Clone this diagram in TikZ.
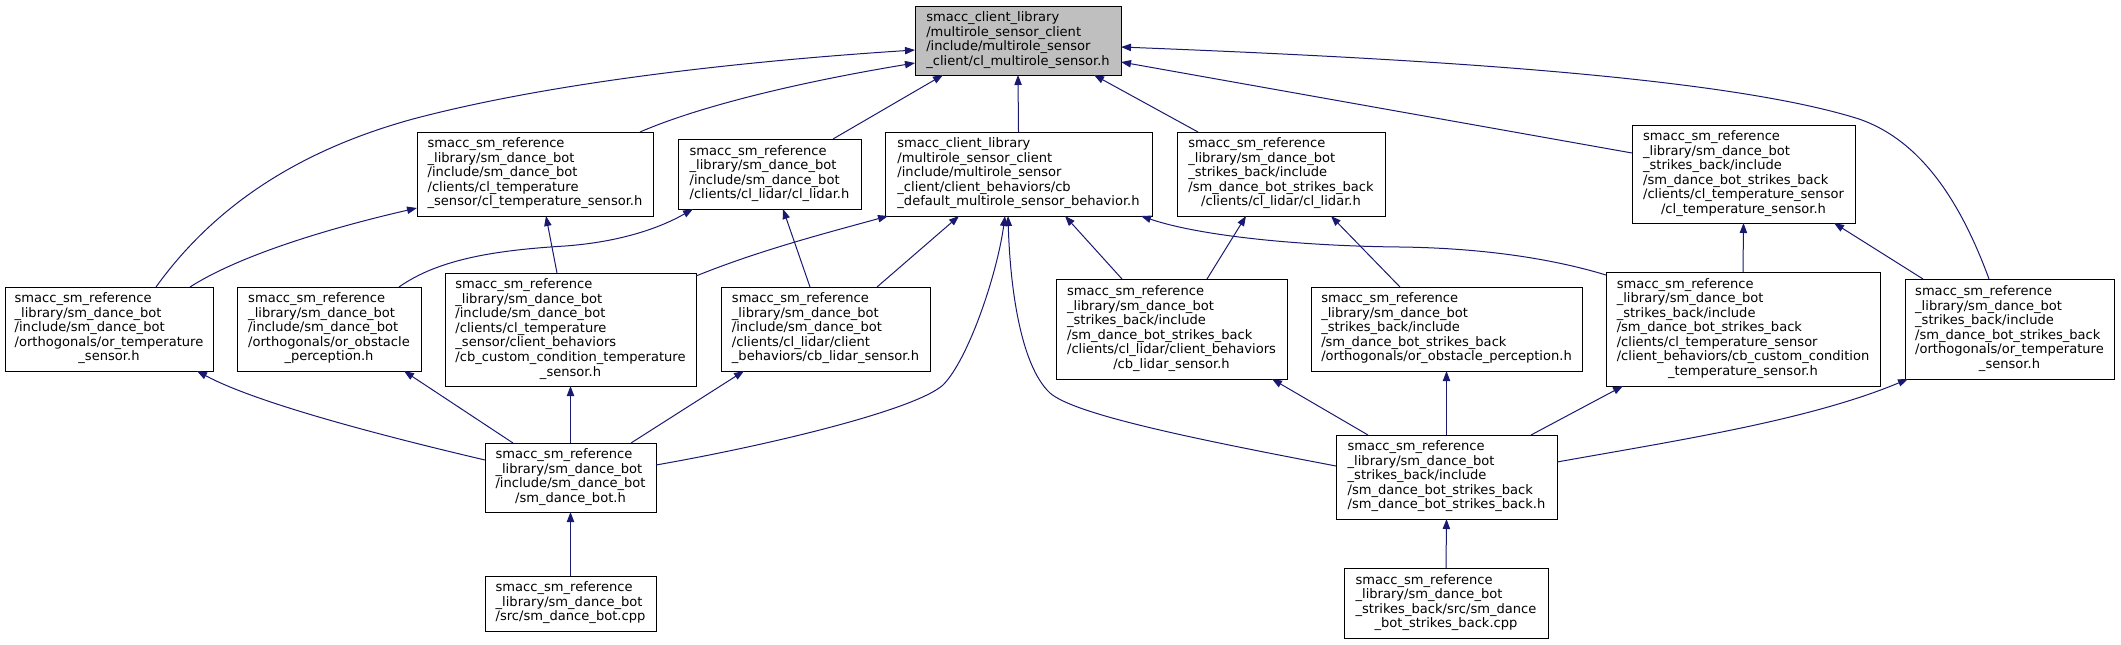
\documentclass[tikz,border=0pt]{standalone}
\usepackage{fontspec}
\setmainfont{DejaVu Sans}
\usetikzlibrary{arrows.meta,calc}
\definecolor{edgeblue}{HTML}{191970}
\definecolor{focusgray}{HTML}{BFBFBF}
\newcommand{\dxlab}[2]{{\fontsize{9.8}{10.9}\selectfont\renewcommand{\arraystretch}{1}\begin{tabular}{@{}l@{}}#1\\\multicolumn{1}{@{}c@{}}{#2}\end{tabular}}}
\tikzset{
  filebox/.style={draw=black, line width=0.75pt, rectangle, inner sep=0pt, outer sep=0pt, fill=white},
  focusbox/.style={filebox, fill=focusgray},
  inc/.style={draw=edgeblue, line width=0.75pt, -{Triangle[length=7.5pt,width=5.5pt]}}
}
\begin{document}
\begin{tikzpicture}[x=0.75pt,y=-0.75pt]
\useasboundingbox (0,0) rectangle (2121,644);
% row 1
\node[focusbox, minimum width=154.5pt, minimum height=51.75pt] (A) at (1018,40.5)
  {\dxlab{smacc\_client\_library\\/multirole\_sensor\_client\\/include/multirole\_sensor}{\_client/cl\_multirole\_sensor.h}};
% row 2
\node[filebox, minimum width=177pt, minimum height=63pt] (B) at (535,174)
  {\dxlab{smacc\_sm\_reference\\\_library/sm\_dance\_bot\\/include/sm\_dance\_bot\\/clients/cl\_temperature}{\_sensor/cl\_temperature\_sensor.h}};
\node[filebox, minimum width=137.25pt, minimum height=52.5pt] (C) at (769.5,174)
  {\dxlab{smacc\_sm\_reference\\\_library/sm\_dance\_bot\\/include/sm\_dance\_bot}{/clients/cl\_lidar/cl\_lidar.h}};
\node[filebox, minimum width=200.25pt, minimum height=63pt] (D) at (1018.5,174)
  {\dxlab{smacc\_client\_library\\/multirole\_sensor\_client\\/include/multirole\_sensor\\\_client/client\_behaviors/cb}{\_default\_multirole\_sensor\_behavior.h}};
\node[filebox, minimum width=156pt, minimum height=63pt] (E) at (1281,174)
  {\dxlab{smacc\_sm\_reference\\\_library/sm\_dance\_bot\\\_strikes\_back/include\\/sm\_dance\_bot\_strikes\_back}{/clients/cl\_lidar/cl\_lidar.h}};
\node[filebox, minimum width=167.25pt, minimum height=73.5pt] (F) at (1743.5,174)
  {\dxlab{smacc\_sm\_reference\\\_library/sm\_dance\_bot\\\_strikes\_back/include\\/sm\_dance\_bot\_strikes\_back\\/clients/cl\_temperature\_sensor}{/cl\_temperature\_sensor.h}};
% row 3
\node[filebox, minimum width=156pt, minimum height=63pt] (G) at (109,329)
  {\dxlab{smacc\_sm\_reference\\\_library/sm\_dance\_bot\\/include/sm\_dance\_bot\\/orthogonals/or\_temperature}{\_sensor.h}};
\node[filebox, minimum width=138pt, minimum height=63pt] (H) at (329,329)
  {\dxlab{smacc\_sm\_reference\\\_library/sm\_dance\_bot\\/include/sm\_dance\_bot\\/orthogonals/or\_obstacle}{\_perception.h}};
\node[filebox, minimum width=188.25pt, minimum height=84.75pt] (I) at (570.5,329.5)
  {\dxlab{smacc\_sm\_reference\\\_library/sm\_dance\_bot\\/include/sm\_dance\_bot\\/clients/cl\_temperature\\\_sensor/client\_behaviors\\/cb\_custom\_condition\_temperature}{\_sensor.h}};
\node[filebox, minimum width=156.75pt, minimum height=63pt] (J) at (825.5,329)
  {\dxlab{smacc\_sm\_reference\\\_library/sm\_dance\_bot\\/include/sm\_dance\_bot\\/clients/cl\_lidar/client}{\_behaviors/cb\_lidar\_sensor.h}};
\node[filebox, minimum width=173.25pt, minimum height=75pt] (K) at (1171.5,329)
  {\dxlab{smacc\_sm\_reference\\\_library/sm\_dance\_bot\\\_strikes\_back/include\\/sm\_dance\_bot\_strikes\_back\\/clients/cl\_lidar/client\_behaviors}{/cb\_lidar\_sensor.h}};
\node[filebox, minimum width=203.25pt, minimum height=63pt] (L) at (1446.5,329)
  {\dxlab{smacc\_sm\_reference\\\_library/sm\_dance\_bot\\\_strikes\_back/include\\/sm\_dance\_bot\_strikes\_back}{/orthogonals/or\_obstacle\_perception.h}};
\node[filebox, minimum width=205.5pt, minimum height=85.5pt] (M) at (1743,329)
  {\dxlab{smacc\_sm\_reference\\\_library/sm\_dance\_bot\\\_strikes\_back/include\\/sm\_dance\_bot\_strikes\_back\\/clients/cl\_temperature\_sensor\\/client\_behaviors/cb\_custom\_condition}{\_temperature\_sensor.h}};
\node[filebox, minimum width=156.75pt, minimum height=75pt] (N) at (2009.5,329)
  {\dxlab{smacc\_sm\_reference\\\_library/sm\_dance\_bot\\\_strikes\_back/include\\/sm\_dance\_bot\_strikes\_back\\/orthogonals/or\_temperature}{\_sensor.h}};
% row 4
\node[filebox, minimum width=128.25pt, minimum height=51.75pt] (O) at (570.5,477.5)
  {\dxlab{smacc\_sm\_reference\\\_library/sm\_dance\_bot\\/include/sm\_dance\_bot}{/sm\_dance\_bot.h}};
\node[filebox, minimum width=165.75pt, minimum height=63pt] (P) at (1446.5,477)
  {\dxlab{smacc\_sm\_reference\\\_library/sm\_dance\_bot\\\_strikes\_back/include\\/sm\_dance\_bot\_strikes\_back}{/sm\_dance\_bot\_strikes\_back.h}};
% row 5
\node[filebox, minimum width=128.25pt, minimum height=41.25pt] (Q) at (570.5,603.5)
  {\dxlab{smacc\_sm\_reference\\\_library/sm\_dance\_bot}{/src/sm\_dance\_bot.cpp}};
\node[filebox, minimum width=153pt, minimum height=52.5pt] (R) at (1446,603)
  {\dxlab{smacc\_sm\_reference\\\_library/sm\_dance\_bot\\\_strikes\_back/src/sm\_dance}{\_bot\_strikes\_back.cpp}};
% edges into A
\draw[inc] ($(G.north)+(47,0)$) .. controls (215,205) and (300,150) .. (413,119) .. controls (560,80) and (760,60) .. ($(A.west)+(0,9.5)$);
\draw[inc] ($(B.north)+(105,0)$) .. controls (700,106) and (800,82) .. ($(A.west)+(0,22.5)$);
\draw[inc] ($(C.north)+(63.5,0)$) -- ($(A.south)+(-75,0)$);
\draw[inc] (D.north) -- (A.south);
\draw[inc] ($(E.north)+(-83,0)$) -- ($(A.south)+(76,0)$);
\draw[inc] ($(F.west)+(0,-21)$) -- ($(A.east)+(0,21.5)$);
\draw[inc] ($(N.north)+(-20.5,0)$) .. controls (1960,200) and (1920,140) .. (1859,119) .. controls (1720,75) and (1400,58) .. ($(A.east)+(0,6.5)$);
% edges into row 2
\draw[inc] ($(G.north)+(81,0)$) .. controls (240,255) and (330,228) .. ($(B.west)+(0,34)$);
\draw[inc] ($(I.north)+(-13.5,0)$) -- ($(B.south)+(11,0)$);
\draw[inc] ($(H.north)+(70,0)$) .. controls (440,258) and (500,250) .. (565,246) .. controls (620,242) and (660,228) .. ($(C.south)+(-76.5,0)$);
\draw[inc] ($(J.north)+(-15.5,0)$) -- ($(C.south)+(13.5,0)$);
\draw[inc] ($(I.north east)+(0,3)$) .. controls (760,250) and (830,232) .. ($(D.south west)+(3,0)$);
\draw[inc] ($(J.north)+(51.5,0)$) -- ($(D.south)+(-59.5,0)$);
\draw[inc] ($(O.east)+(0,-12.5)$) .. controls (770,445) and (915,410) .. (943,385) .. controls (968,360) and (997,275) .. ($(D.south)+(-13.5,0)$);
\draw[inc] ($(P.west)+(0,-11)$) .. controls (1200,440) and (1075,415) .. (1050,393) .. controls (1020,365) and (1010,285) .. ($(D.south)+(-10.5,0)$);
\draw[inc] ($(K.north)+(-49.5,0)$) -- ($(D.south)+(46.5,0)$);
\draw[inc] ($(M.north west)+(0,3)$) .. controls (1550,258) and (1480,248) .. (1400,247) .. controls (1300,246) and (1200,236) .. ($(D.south east)+(-11,0)$);
\draw[inc] ($(K.north)+(35.5,0)$) -- ($(E.south)+(-35,0)$);
\draw[inc] ($(L.north)+(-46.5,0)$) -- ($(E.south)+(50,0)$);
\draw[inc] (M.north) -- (F.south);
\draw[inc] ($(N.north)+(-86.5,0)$) -- ($(F.south)+(90.5,0)$);
% edges into row 3
\draw[inc] ($(O.west)+(0,-17.5)$) .. controls (400,440) and (260,405) .. ($(G.south)+(88,0)$);
\draw[inc] ($(O.north)+(-57.5,0)$) -- ($(H.south)+(75,0)$);
\draw[inc] (O.north) -- (I.south);
\draw[inc] ($(O.north)+(60.5,0)$) -- ($(J.south)+(-81.5,0)$);
\draw[inc] ($(P.north)+(-78.5,0)$) -- ($(K.south)+(100.5,0)$);
\draw[inc] (P.north) -- (L.south);
\draw[inc] ($(P.north)+(84.5,0)$) -- ($(M.south)+(-120,0)$);
\draw[inc] ($(P.east)+(0,-15)$) .. controls (1680,440) and (1810,420) .. ($(N.south west)+(3,0)$);
% edges into row 4
\draw[inc] (Q.north) -- (O.south);
\draw[inc] (R.north) -- (P.south);
\end{tikzpicture}
\end{document}
